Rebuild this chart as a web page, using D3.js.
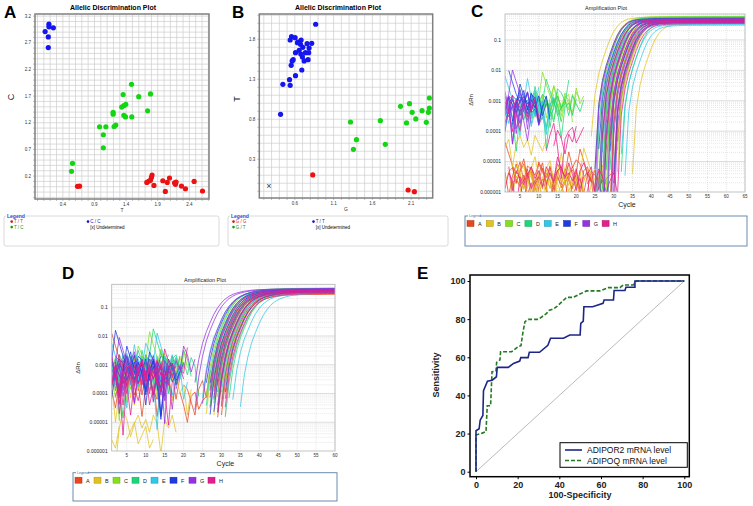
<!DOCTYPE html>
<html><head><meta charset="utf-8">
<script src="https://cdn.jsdelivr.net/npm/d3@7"></script>
<style>body{margin:0;background:#fff;} svg{display:block;font-family:"Liberation Sans",Arial,sans-serif;}</style>
</head><body><svg id="c" width="753" height="506"></svg>
<script>
// ---------------- DATA ----------------
// Panel A (x = allele T, y = allele C)
const A_TT = [[0.632,0.007],[0.664,0.01],[1.81,0.22],[1.80,0.175],[1.785,0.12],[1.76,0.107],[1.727,0.08],[1.84,0.025],[1.98,0.112],[2.05,0.08],[2.086,0.163],[2.18,0.045],[2.165,0.075],[2.19,0.087],[2.02,-0.087],[2.275,0.012],[2.338,-0.038],[2.475,0.10],[2.607,-0.08]];
const A_TC = [[1.485,1.92],[1.353,1.73],[1.785,1.74],[1.60,1.69],[1.395,1.545],[1.364,1.52],[1.33,1.495],[1.74,1.425],[1.195,1.395],[1.195,1.36],[1.364,1.34],[1.39,1.31],[1.49,1.31],[0.98,1.125],[1.08,1.125],[1.237,1.157],[1.21,1.13],[1.04,0.975],[1.04,0.73],[0.553,0.44],[0.537,0.29]];
const A_CC = [[0.18,3.05],[0.18,3.00],[0.25,2.98],[0.12,2.91],[0.17,2.81],[0.17,2.61]];
const A_XTICKS = [0.4,0.9,1.4,1.9,2.4];
const A_YTICKS = [0.2,0.7,1.2,1.7,2.2,2.7,3.2];
// Panel B (x = allele G, y = allele T)
const B_GG = [[0.831,0.104],[2.061,-0.084],[2.142,-0.105]];
const B_GT = [[2.335,1.066],[1.963,0.962],[2.079,0.995],[2.335,0.941],[2.241,0.908],[2.113,0.887],[2.322,0.887],[2.160,0.804],[2.040,0.754],[2.296,0.762],[1.703,0.783],[1.318,0.766],[1.395,0.545],[1.356,0.425],[1.767,0.487]];
const B_TT = [[0.869,1.988],[0.557,1.833],[0.604,1.82],[0.540,1.791],[0.681,1.791],[0.643,1.766],[0.634,1.758],[0.673,1.737],[0.758,1.745],[0.818,1.75],[0.784,1.691],[0.703,1.70],[0.656,1.662],[0.609,1.633],[0.737,1.633],[0.779,1.633],[0.677,1.616],[0.698,1.579],[0.579,1.545],[0.771,1.545],[0.566,1.529],[0.720,1.529],[0.553,1.475],[0.690,1.416],[0.609,1.345],[0.532,1.295],[0.446,1.237],[0.540,1.225],[0.416,0.862]];
const B_UND = [[0.267,-0.042]];
const B_XTICKS = [0.6,1.1,1.6,2.1];
const B_YTICKS = [0.3,0.8,1.3,1.8];

// Amplification plots: wells grouped by row A..H
const WELL_GROUPS = ['A','B','C','D','E','F','G','H'];
const WELL_COLORS = ['#e8461e','#e2c21e','#84e01e','#1ed67a','#2ec8ea','#1e3ae0','#9632e2','#e41e8c'];
const AMP_YTICKS = [0.1,0.01,0.001,0.0001,0.00001,0.000001];
const AMP_YLABELS = ['0.1','0.01','0.001','0.0001','0.00001','0.000001'];
// shared shape of the amplification rise (cycle offset from Ct@0.01 -> dRn)
const TPL_C_OFF = [-3.4,-3,-2.5,-2,-1.5,-1,-0.5,0,1,2,3,4,5,6,7,8,10,13,18,25,45];
const TPL_C_VAL = [1e-8,1e-6,5e-5,4e-4,1.2e-3,3e-3,5.7e-3,0.01,0.024,0.055,0.11,0.18,0.25,0.31,0.35,0.375,0.40,0.415,0.42,0.425,0.43];
const TPL_D_OFF = [-3.5,-3,-2.5,-2,-1,0,1,2,3,4,5,6,7,8,10,13,18,30,45];
const TPL_D_VAL = [2e-5,8e-5,3e-4,8e-4,3.5e-3,0.01,0.021,0.043,0.078,0.12,0.17,0.215,0.255,0.29,0.34,0.385,0.41,0.425,0.43];
// baseline noise traces (log10 dRn), cycles 1..32
const NOISE = [
 [-2.3,-2.6,-2.9,-3.1,-2.8,-3.3,-2.9,-3.0,-3.4,-2.8,-3.0,-3.2,-2.9,-3.5,-3.0,-3.3,-3.8,-3.1,-3.0,-3.4,-3.2,-3.6,-3.1,-3.3,-3.0,-3.5,-3.2,-2.9,-3.4,-3.1,-3.3,-3.0],
 [-2.6,-2.8,-3.2,-2.9,-3.5,-3.0,-2.7,-3.1,-3.3,-3.0,-2.9,-3.6,-3.1,-2.8,-3.2,-4.1,-3.4,-3.0,-3.3,-3.1,-3.7,-3.2,-2.9,-3.4,null,-3.2,-3.0,-3.5,-3.3,-3.1,-3.6,-3.2],
 [-2.5,-3.0,-2.8,-3.3,-3.1,-3.8,-3.2,-2.9,-3.0,-3.4,-3.1,-2.8,-3.3,-3.0,-3.6,-3.2,-2.9,-3.5,-4.3,-3.3,-3.1,-3.0,-3.4,-3.2,-3.0,-3.3,-3.7,-3.1,-3.0,-3.4,-3.2,-3.1],
 [-2.8,-2.9,-3.1,-3.4,-3.0,-2.9,-3.5,-3.2,-2.8,-3.3,-3.7,-3.1,-3.0,-3.2,-2.9,-3.4,-3.1,-3.9,-3.2,-3.0,-3.3,-3.5,-3.0,null,-3.3,-3.1,-2.9,-3.4,-3.2,-3.0,-3.5,-3.3],
 [-2.4,-2.7,-3.0,-3.2,-3.9,-3.1,-3.0,-3.3,-2.9,-3.1,-3.5,-3.2,-4.4,-3.1,-3.0,-3.3,-3.6,-3.2,-2.9,-3.7,-3.3,-3.1,-3.4,-3.0,-3.2,-3.6,-3.1,-3.3,-2.9,-3.2,-3.4,-3.0],
 [-2.7,-3.1,-2.9,-3.0,-3.3,-3.6,-3.0,-2.8,-3.2,-3.0,-3.4,-3.1,-2.9,-3.3,-3.8,-3.0,-3.2,-3.1,-3.5,-3.2,-3.0,-3.4,-3.1,-3.3,-3.0,-3.2,-3.5,-3.1,-3.4,-3.0,-3.2,-3.3],
 [-2.9,-3.2,-3.6,-3.1,-2.9,-3.2,-3.0,-3.7,-3.1,-2.9,-3.2,-3.0,-3.4,-2.9,-3.1,-3.3,-3.0,-3.6,-3.1,-3.3,-4.0,-3.2,-3.0,-3.3,-3.1,-3.5,-3.0,-3.2,-3.4,-3.1,-3.0,-3.3],
 [-2.6,-2.9,-3.1,-3.0,-3.2,-2.9,-3.4,-3.1,-3.0,-4.2,-3.3,-2.9,-3.1,-3.5,-3.2,-3.0,-3.3,-3.1,-3.4,-3.0,-3.2,-3.9,-3.1,-3.3,-3.0,-3.4,-3.2,-3.1,null,-3.3,-3.0,-3.2]];
// Panel C wells (rows A..H, 6 wells each)
const C_CT = [[30.6,31.4,32.1,32.8,33.5,29.9],[26.5,27.8,29.3,30.8,33.8,37.8],[28.4,29.2,30.1,31.0,32.2,33.6],[29.0,30.0,30.8,31.8,33.0,34.8],[28.2,29.6,31.4,32.8,34.6,35.8],[27.8,28.6,29.4,30.4,31.6,32.9],[28.0,29.0,30.2,31.2,32.4,33.2],[29.5,30.5,31.5,32.2,33.0,34.0]];
const C_PLAT = [[0.46,0.50,0.44,0.42,0.40,0.52],[0.58,0.54,0.50,0.46,0.40,0.36],[0.60,0.56,0.53,0.50,0.47,0.44],[0.57,0.54,0.50,0.47,0.44,0.41],[0.40,0.38,0.36,0.34,0.33,0.31],[0.52,0.49,0.46,0.44,0.41,0.38],[0.50,0.47,0.45,0.42,0.40,0.37],[0.48,0.45,0.43,0.40,0.38,0.35]];
const C_NSTART = [[1,1,3,1,5,2],[1,2,1,4,1,3],[6,5,8,4,7,9],[3,6,5,8,4,7],[1,2,1,3,1,2],[1,1,2,1,1,3],[1,1,1,2,1,1],[12,1,14,1,2,1]];
const C_NEND = [[30,28,24,30,26,22],[12,30,26,18,28,24],[20,22,18,16,21,19],[18,17,20,15,22,16],[12,10,14,8,11,13],[10,12,9,11,13,8],[8,10,7,9,11,6],[22,10,20,9,26,30]];
const C_NSHIFT = [[-2.3,-2.5,-2.2,-2.6,-2.4,-2.1],[-1.3,-2.3,-2.5,-2.0,-2.4,-2.6],[0.05,0.0,0.1,-0.05,0.0,0.05],[0.0,0.1,-0.1,0.05,0.0,-0.05],[0.0,-0.1,0.05,-0.2,0.0,-0.1],[0.1,0.0,0.05,-0.05,0.0,0.1],[0.2,0.0,-0.2,0.1,-0.3,0.0],[-0.9,-0.1,-1.0,0.0,-2.2,-2.4]];
// Panel D wells
const D_CT = [[30.2,31.0,31.8,32.5,33.4,34.0],[29.5,30.6,31.5,32.3,33.0,34.5],[29.0,29.8,30.7,31.6,32.6,33.6],[29.3,30.3,31.2,32.0,33.2,35.0],[28.0,30.0,32.8,34.5,36.0,38.2],[28.6,29.6,30.5,31.4,32.4,33.8],[25.6,26.4,28.2,29.8,31.0,32.2],[30.0,30.8,31.6,32.4,33.2,34.2]];
const D_PLAT = [[0.30,0.33,0.36,0.32,0.29,0.35],[0.42,0.40,0.38,0.36,0.34,0.32],[0.46,0.44,0.42,0.40,0.38,0.36],[0.47,0.45,0.43,0.41,0.39,0.37],[0.38,0.36,0.35,0.34,0.33,0.32],[0.44,0.42,0.40,0.38,0.37,0.35],[0.45,0.44,0.42,0.40,0.38,0.36],[0.40,0.38,0.36,0.35,0.33,0.31]];
const D_NSTART = [[1,1,19,1,3,20],[1,2,1,1,16,1],[1,1,2,1,1,3],[1,2,1,3,1,14],[1,1,2,1,1,1],[1,1,1,2,1,1],[1,2,1,1,1,18],[1,1,2,1,1,1]];
const D_NEND = [[17,20,27,15,18,26],[14,18,16,20,22,12],[19,21,16,18,20,15],[17,20,22,16,19,24],[18,15,20,17,21,19],[16,19,14,18,20,17],[18,16,20,17,15,23],[17,19,15,21,16,18]];
const D_NSHIFT = [[0.0,-0.2,-1.0,-0.5,0.1,-0.9],[-0.3,-1.8,0.0,-0.4,-0.6,-2.2],[0.1,0.0,0.15,-0.1,0.05,0.0],[0.05,-0.1,0.3,0.0,0.1,0.2],[0.0,0.1,-0.1,0.0,-0.2,0.05],[-0.1,0.0,0.1,-0.2,0.0,-0.1],[0.0,0.1,-0.1,0.05,-0.2,0.0],[-0.2,0.0,-0.4,0.1,-0.3,-0.1]];

// Panel E ROC curves [100-specificity, sensitivity]
const ROC_ADIPOR2 = [[0,0],[0,21.5],[1.5,22.5],[2,27],[3.3,29.5],[3.6,42.5],[5.5,47.5],[7.8,48],[9.8,49.8],[10.2,54.7],[15.5,54.7],[18,56.8],[21,58],[21.5,59.8],[25,59.8],[25.6,62.6],[30.5,62.6],[34.5,66.3],[35.8,70],[42,70],[45,71.7],[50,71.7],[50.3,77.8],[51.5,79],[51.8,86.5],[56,86.5],[61,88.3],[61.5,90],[66,90],[66.3,95],[71.5,95],[72,96.7],[76.3,96.7],[76.3,100],[100,100]];
const ROC_ADIPOQ = [[0,0],[0,19.2],[2.7,20.1],[4.8,21],[5.4,34.6],[7,34.6],[7.7,52.4],[9.6,52.8],[9.9,57.3],[11.5,58.6],[11.8,62.9],[17.1,62.9],[20.3,65.6],[21.6,66.1],[22.4,72.2],[23.5,78.7],[25.1,79.9],[29.9,79.9],[33.9,83],[34.7,84.4],[37.1,85.3],[38.7,86.5],[43.5,91.4],[46.7,91.4],[49.9,93.2],[53.1,94.8],[59.5,94.8],[63.5,96.5],[69.1,96.5],[70.7,97.9],[75.5,97.9],[76.3,99.3],[77.1,100],[100,100]];
const E_TICKS = [0,20,40,60,80,100];

// ---------------- DRAW ----------------
const svg = d3.select('#c');
const defs = svg.append('defs');

function text(g, x, y, s, o = {}) {
  const t = g.append('text').attr('x', x).attr('y', y).text(s)
    .attr('font-size', o.size || 6).attr('fill', o.fill || '#000')
    .attr('text-anchor', o.anchor || 'start');
  if (o.bold) t.attr('font-weight', 'bold');
  if (o.rot) t.attr('transform', `rotate(${o.rot},${x},${y})`);
  if (o.len) t.attr('textLength', o.len).attr('lengthAdjust', 'spacingAndGlyphs');
  return t;
}

// panel letters
[['A',4,18],['B',232,18],['C',471,17],['D',62,279],['E',417,279]].forEach(([s,x,y]) =>
  text(svg, x, y, s, {size: 17, bold: true}));

function allelic(o) {
  const g = svg.append('g');
  const x = d3.scaleLinear().domain(o.xd).range([o.L, o.R]);
  const y = d3.scaleLinear().domain(o.yd).range([o.B, o.T]);
  g.append('rect').attr('x', o.L).attr('y', o.T).attr('width', o.R - o.L).attr('height', o.B - o.T).attr('fill', '#fff');
  const xs = d3.range(Math.ceil(o.xd[0] * 10), Math.floor(o.xd[1] * 10) + 1).map(v => v / 10);
  const ys = d3.range(Math.ceil(o.yd[0] * 10), Math.floor(o.yd[1] * 10) + 1).map(v => v / 10);
  g.selectAll(null).data(xs).join('line').attr('x1', d => x(d)).attr('x2', d => x(d)).attr('y1', o.T).attr('y2', o.B)
    .attr('stroke', '#cdcdcd').attr('stroke-width', 0.7);
  g.selectAll(null).data(ys).join('line').attr('y1', d => y(d)).attr('y2', d => y(d)).attr('x1', o.L).attr('x2', o.R)
    .attr('stroke', '#cdcdcd').attr('stroke-width', 0.7);
  g.selectAll(null).data(xs).join('line').attr('x1', d => x(d)).attr('x2', d => x(d)).attr('y1', o.B).attr('y2', o.B + 2)
    .attr('stroke', '#999').attr('stroke-width', 0.6);
  g.selectAll(null).data(ys).join('line').attr('y1', d => y(d)).attr('y2', d => y(d)).attr('x1', o.L - 2).attr('x2', o.L)
    .attr('stroke', '#999').attr('stroke-width', 0.6);
  g.append('rect').attr('x', o.L).attr('y', o.T).attr('width', o.R - o.L).attr('height', o.B - o.T)
    .attr('fill', 'none').attr('stroke', '#808080').attr('stroke-width', 1.5);
  o.xt.forEach(v => text(g, x(v), o.B + 7, v.toFixed(1), {size: 4.5, anchor: 'middle', fill: '#333'}));
  o.yt.forEach(v => text(g, o.L - 4, y(v) + 1.5, v.toFixed(1), {size: 4.5, anchor: 'end', fill: '#333'}));
  text(g, (o.L + o.R) / 2, o.B + 13, o.xl, {size: 5, anchor: 'middle', fill: '#333'});
  text(g, o.yl[0], o.yl[1], o.ylab, {size: 9, anchor: 'middle', rot: -90, fill: '#222'});
  text(g, o.tx, 9.5, 'Allelic Discrimination Plot', {size: 7, bold: true, anchor: 'middle', len: 86});
  o.series.forEach(s => {
    g.selectAll(null).data(s.pts).join('circle').attr('cx', d => x(d[0])).attr('cy', d => y(d[1]))
      .attr('r', 2.6).attr('fill', s.color);
  });
  (o.und || []).forEach(d => text(g, x(d[0]), y(d[1]) + 2.5, '×', {size: 9, anchor: 'middle', fill: '#333'}));
  // legend
  const lg = o.leg;
  g.append('rect').attr('x', lg.x).attr('y', lg.y).attr('width', lg.w).attr('height', lg.h).attr('rx', 2)
    .attr('fill', '#fff').attr('stroke', '#d0d0d0').attr('stroke-width', 0.8);
  g.append('rect').attr('x', lg.x + 2).attr('y', lg.y - 2).attr('width', 18).attr('height', 4).attr('fill', '#fff');
  text(g, lg.x + 3, lg.y + 1.8, 'Legend', {size: 5, bold: true, fill: '#2448c8'});
  lg.items.forEach(it => {
    if (it.color) g.append('circle').attr('cx', it.x).attr('cy', it.y - 1.4).attr('r', 1.3).attr('fill', it.color);
    text(g, it.x + 2.2, it.y, it.label, {size: 4.5, fill: it.tc || '#000'});
  });
}

allelic({L: 35, R: 209, T: 14, B: 199, xd: [-0.04, 2.71], yd: [-0.23, 3.24], xt: A_XTICKS, yt: A_YTICKS,
  xl: 'T', ylab: 'C', yl: [14, 97], tx: 113,
  series: [{pts: A_TC, color: '#13d613'}, {pts: A_TT, color: '#ee1111'}, {pts: A_CC, color: '#1515ee'}],
  leg: {x: 4, y: 216, w: 215, h: 30, items: [
    {x: 11.7, y: 223, color: '#e01010', label: 'T / T', tc: '#d02828'},
    {x: 11.7, y: 228.5, color: '#10a010', label: 'T / C', tc: '#209020'},
    {x: 88, y: 223, color: '#1010e0', label: 'C / C', tc: '#1818c0'},
    {x: 88, y: 228.5, color: null, label: '[x] Undetermined'}]}});

allelic({L: 259.3, R: 432.7, T: 14, B: 198, xd: [0.142, 2.378], yd: [-0.184, 2.116], xt: B_XTICKS, yt: B_YTICKS,
  xl: 'G', ylab: 'T', yl: [240, 99], tx: 338,
  series: [{pts: B_GT, color: '#13d613'}, {pts: B_GG, color: '#ee1111'}, {pts: B_TT, color: '#1515ee'}], und: B_UND,
  leg: {x: 228, y: 216, w: 220, h: 30, items: [
    {x: 233.5, y: 223, color: '#e01010', label: 'G / G', tc: '#d02828'},
    {x: 233.5, y: 228.5, color: '#10a010', label: 'G / T', tc: '#209020'},
    {x: 313.5, y: 223, color: '#1010e0', label: 'T / T', tc: '#1818c0'},
    {x: 313.5, y: 228.5, color: null, label: '[x] Undetermined'}]}});

function amp(o) {
  const g = svg.append('g');
  const x = d3.scaleLinear().domain([1, o.maxC]).range([o.L, o.R]);
  const y = d3.scaleLog().domain([1e-6, o.top]).range([o.B, o.T]);
  g.append('rect').attr('x', o.L).attr('y', o.T).attr('width', o.R - o.L).attr('height', o.B - o.T).attr('fill', '#fff');
  const hv = [];
  for (let d = -6; d <= 0; d++) for (let k = 1; k <= 9; k++) {
    const v = k * Math.pow(10, d);
    if (v > 1e-6 * 1.0001 && v < o.top) hv.push({v, major: k === 1});
  }
  g.selectAll(null).data(hv).join('line').attr('x1', o.L).attr('x2', o.R)
    .attr('y1', d => y(d.v)).attr('y2', d => y(d.v))
    .attr('stroke', d => d.major ? '#cfcfcf' : '#dcdcdc').attr('stroke-width', 0.7)
    .attr('stroke-dasharray', d => d.major ? null : '1,1');
  const xt = d3.range(5, o.maxC + 1, 5);
  g.selectAll(null).data(xt).join('line').attr('x1', d => x(d)).attr('x2', d => x(d)).attr('y1', o.T).attr('y2', o.B)
    .attr('stroke', '#d8d8d8').attr('stroke-width', 0.7).attr('stroke-dasharray', '1,1');
  defs.append('clipPath').attr('id', o.id).append('rect')
    .attr('x', o.L).attr('y', o.T).attr('width', o.R - o.L).attr('height', o.B - o.T);
  const cg = g.append('g').attr('clip-path', `url(#${o.id})`);
  const tpl = d3.scaleLinear().domain(o.tplOff).range(o.tplVal.map(Math.log10)).clamp(true);
  const line = d3.line().defined(d => d[1] != null).x(d => x(d[0])).y(d => y(d[1]));
  WELL_GROUPS.forEach((grp, gi) => {
    o.ct[gi].forEach((ct, j) => {
      const k = (gi * 6 + j) % NOISE.length;
      const phase = (gi * 5 + j * 3) % 32;
      const pts = d3.range(1, o.maxC + 1).map(c => {
        const off = c - ct;
        if (off >= o.tplOff[0]) return [c, o.plat[gi][j] / 0.43 * Math.pow(10, tpl(off))];
        if (c >= o.ns[gi][j] && c <= o.ne[gi][j]) {
          const p = NOISE[k][(c - 1 + phase) % 32];
          return [c, p == null ? null : Math.pow(10, -3.1 + o.nsh[gi][j] + o.ampl * (p + 3.1))];
        }
        return [c, null];
      });
      cg.append('path').attr('d', line(pts)).attr('fill', 'none')
        .attr('stroke', WELL_COLORS[gi]).attr('stroke-width', 0.8).attr('stroke-opacity', 0.95);
    });
  });
  g.append('rect').attr('x', o.L).attr('y', o.T).attr('width', o.R - o.L).attr('height', o.B - o.T)
    .attr('fill', 'none').attr('stroke', '#b4b4b4').attr('stroke-width', 0.8);
  AMP_YTICKS.forEach((v, i) => text(g, o.L - 4, y(v) + 1.8, AMP_YLABELS[i], {size: 5, anchor: 'end', fill: '#222'}));
  xt.forEach(v => text(g, x(v), o.B + 6, String(v), {size: 4.5, anchor: 'middle', fill: '#333'}));
  text(g, (o.L + o.R) / 2 + 2, o.B + 15, 'Cycle', {size: 7, anchor: 'middle', fill: '#222'});
  text(g, o.yl[0], o.yl[1], 'ΔRn', {size: 6, anchor: 'middle', rot: -90, fill: '#222'});
  text(g, o.tx[0], o.tx[1], 'Amplification Plot', {size: 5.5, anchor: 'middle', fill: '#222', len: 42});
  // legend
  const lg = o.leg;
  g.append('rect').attr('x', lg.x).attr('y', lg.y).attr('width', lg.w).attr('height', lg.h)
    .attr('fill', '#fff').attr('stroke', '#6a8bb0').attr('stroke-width', 1);
  g.append('rect').attr('x', lg.x + 3).attr('y', lg.y - 1.5).attr('width', 12).attr('height', 3).attr('fill', '#fff');
  text(g, lg.x + 4, lg.y + 1.3, 'Legend', {size: 3.5, fill: '#4a6a90'});
  WELL_GROUPS.forEach((s, i) => {
    const sx = lg.x + 2 + i * lg.step;
    g.append('rect').attr('x', sx).attr('y', lg.y + 4.5).attr('width', 7).attr('height', 6)
      .attr('fill', WELL_COLORS[i]).attr('stroke', d3.color(WELL_COLORS[i]).darker(0.8)).attr('stroke-width', 0.5);
    text(g, sx + 11, lg.y + 10, s, {size: 5.5, fill: '#222'});
  });
}

amp({id: 'clipC', L: 505, R: 745, T: 14, B: 192, maxC: 65, top: 0.71, ct: C_CT, plat: C_PLAT, ns: C_NSTART, ne: C_NEND,
  nsh: C_NSHIFT, ampl: 1.3, tplOff: TPL_C_OFF, tplVal: TPL_C_VAL, yl: [473, 100], tx: [606, 9.5],
  leg: {x: 465, y: 216, w: 282, h: 30, step: 19.3}});
amp({id: 'clipD', L: 111.7, R: 335, T: 284.3, B: 451, maxC: 60, top: 0.63, ct: D_CT, plat: D_PLAT, ns: D_NSTART, ne: D_NEND,
  nsh: D_NSHIFT, ampl: 1.5, tplOff: TPL_D_OFF, tplVal: TPL_D_VAL, yl: [80, 368], tx: [205, 281.5],
  leg: {x: 73, y: 472.7, w: 264, h: 28.3, step: 19}});

// Panel E
(function () {
  const g = svg.append('g');
  const x = d3.scaleLinear().domain([0, 100]).range([476, 684.3]);
  const y = d3.scaleLinear().domain([0, 100]).range([471.7, 281]);
  const L = 470, R = 689.3, T = 275, B = 476.7;
  g.append('line').attr('x1', x(0)).attr('y1', y(0)).attr('x2', x(100)).attr('y2', y(100))
    .attr('stroke', '#a8a8a8').attr('stroke-width', 0.8);
  const line = d3.line().x(d => x(d[0])).y(d => y(d[1]));
  g.append('path').attr('d', line(ROC_ADIPOQ)).attr('fill', 'none').attr('stroke', '#237a23')
    .attr('stroke-width', 1.6).attr('stroke-dasharray', '4,2');
  g.append('path').attr('d', line(ROC_ADIPOR2)).attr('fill', 'none').attr('stroke', '#1c2688').attr('stroke-width', 1.6);
  g.append('rect').attr('x', L).attr('y', T).attr('width', R - L).attr('height', B - T)
    .attr('fill', 'none').attr('stroke', '#000').attr('stroke-width', 1.5);
  const ax = g.append('g').attr('transform', `translate(0,${B})`)
    .call(d3.axisBottom(x).tickValues(E_TICKS).tickSize(2.5).tickPadding(2));
  const ay = g.append('g').attr('transform', `translate(${L},0)`)
    .call(d3.axisLeft(y).tickValues(E_TICKS).tickSize(2.5).tickPadding(2));
  [ax, ay].forEach(a => {
    a.select('.domain').remove();
    a.selectAll('text').attr('font-size', 9).attr('font-weight', 'bold').attr('fill', '#222')
      .attr('font-family', '"Liberation Sans",Arial,sans-serif');
    a.selectAll('line').attr('stroke', '#000');
  });
  text(g, 439, 375, 'Sensitivity', {size: 9, bold: true, anchor: 'middle', rot: -90, fill: '#222'});
  text(g, 580, 498, '100-Specificity', {size: 9, bold: true, anchor: 'middle', fill: '#222'});
  g.append('rect').attr('x', 560).attr('y', 442.7).attr('width', 127.3).attr('height', 24.6)
    .attr('fill', '#fff').attr('stroke', '#000').attr('stroke-width', 1);
  g.append('line').attr('x1', 565).attr('x2', 582).attr('y1', 450).attr('y2', 450).attr('stroke', '#1c2688').attr('stroke-width', 1.6);
  g.append('line').attr('x1', 565).attr('x2', 582).attr('y1', 460.5).attr('y2', 460.5).attr('stroke', '#237a23')
    .attr('stroke-width', 1.6).attr('stroke-dasharray', '4,2');
  text(g, 587, 453, 'ADIPOR2 mRNA level', {size: 8.5, fill: '#111'});
  text(g, 587, 463.5, 'ADIPOQ mRNA level', {size: 8.5, fill: '#111'});
})();
</script></body></html>
